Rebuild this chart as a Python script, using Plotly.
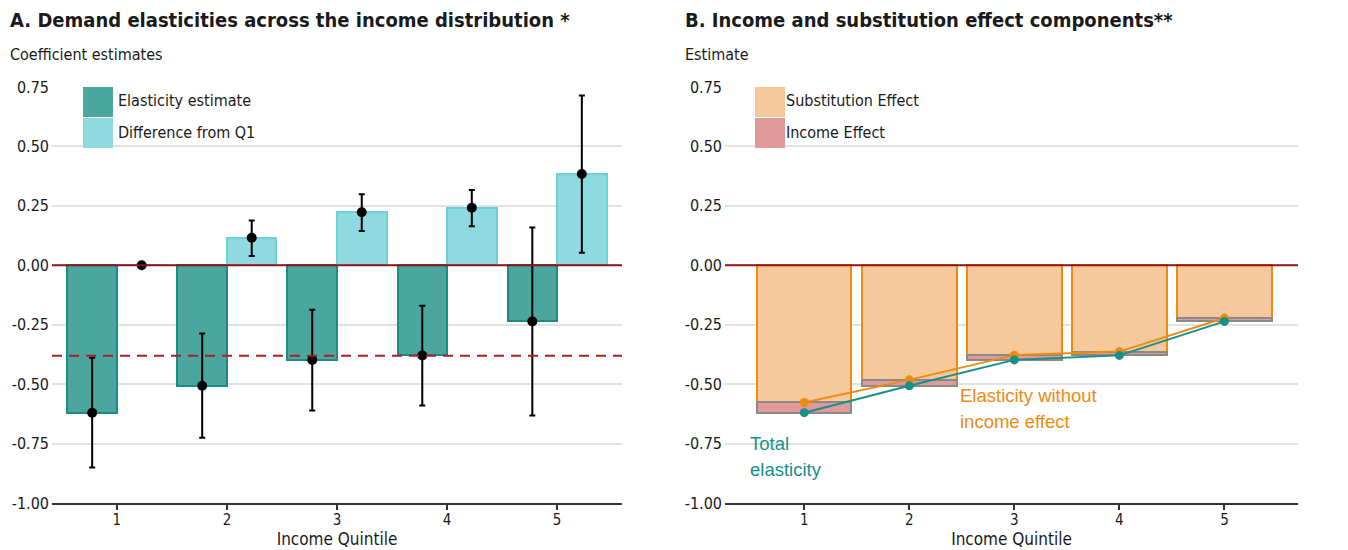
import plotly.graph_objects as go

# ---- data -----------------------------------------------------------------
quintiles = [1, 2, 3, 4, 5]

# Panel A: elasticity by income quintile, with 95% confidence bounds
elasticity = [-0.620, -0.507, -0.398, -0.379, -0.236]
elasticity_low = [-0.851, -0.725, -0.611, -0.590, -0.632]
elasticity_high = [-0.389, -0.287, -0.187, -0.170, 0.159]

# Panel A: difference from the first quintile
diff_q1 = [0.000, 0.116, 0.223, 0.242, 0.384]
diff_low = [0.000, 0.039, 0.144, 0.164, 0.053]
diff_high = [0.000, 0.188, 0.299, 0.317, 0.714]

# pooled (all-household) elasticity shown as the dashed reference
pooled_elasticity = -0.381

# Panel B: substitution effect; total elasticity = substitution + income
substitution = [-0.577, -0.482, -0.378, -0.363, -0.222]
total_elasticity = elasticity

y_ticks = [0.75, 0.50, 0.25, 0.00, -0.25, -0.50, -0.75, -1.00]
y_ticktext = ["0.75", "0.50", "0.25", "0.00", "-0.25", "-0.50", "-0.75", "-1.00"]

# ---- styling --------------------------------------------------------------
W, H = 1348, 550
NARROW = "DejaVu Sans Condensed, Liberation Sans Narrow, Roboto, sans-serif"
SANS = "Liberation Sans, Arial, sans-serif"
TEAL_FILL, TEAL_LINE = "#4ba6a0", "#1c8b83"
CYAN_FILL, CYAN_LINE = "#8fd9e0", "#6dcfd9"
ORANGE_FILL, ORANGE_LINE = "#f5c99b", "#f08a10"
PINK_FILL, GREY_LINE = "#e09a9a", "#8a8a8a"
TEAL_PT = "#15918a"
ZERO_RED = "#8e1616"
DASH_RED = "#a82225"
GRID = "#e2e2e2"
TEXT = "#1a1a1a"


def px(x):
    return x / W


def py(y):
    return 1 - y / H


half = 0.225  # dodge offset of the two bars in panel A
income_effect = [t - s for t, s in zip(total_elasticity, substitution)]

fig = go.Figure()

# ---- panel A --------------------------------------------------------------
fig.add_trace(go.Bar(
    x=quintiles, y=elasticity, offset=-2 * half, width=2 * half,
    marker=dict(color=TEAL_FILL, line=dict(color=TEAL_LINE, width=2)),
    xaxis="x", yaxis="y", showlegend=False, hoverinfo="skip"))
fig.add_trace(go.Bar(
    x=quintiles, y=diff_q1, offset=0, width=2 * half,
    marker=dict(color=CYAN_FILL, line=dict(color=CYAN_LINE, width=2)),
    xaxis="x", yaxis="y", showlegend=False, hoverinfo="skip"))

fig.add_trace(go.Scatter(
    x=[q - half for q in quintiles], y=elasticity, mode="markers",
    marker=dict(color="black", size=10),
    error_y=dict(type="data", symmetric=False,
                 array=[h - e for h, e in zip(elasticity_high, elasticity)],
                 arrayminus=[e - l for e, l in zip(elasticity, elasticity_low)],
                 color="black", thickness=2, width=3),
    xaxis="x", yaxis="y", showlegend=False))
fig.add_trace(go.Scatter(
    x=[q + half for q in quintiles], y=diff_q1, mode="markers",
    marker=dict(color="black", size=10),
    error_y=dict(type="data", symmetric=False,
                 array=[h - d for h, d in zip(diff_high, diff_q1)],
                 arrayminus=[d - l for d, l in zip(diff_q1, diff_low)],
                 color="black", thickness=2, width=3),
    xaxis="x", yaxis="y", showlegend=False))

# ---- panel B --------------------------------------------------------------
fig.add_trace(go.Bar(
    x=quintiles, y=substitution, width=0.9,
    marker=dict(color=ORANGE_FILL, line=dict(color=ORANGE_LINE, width=2)),
    xaxis="x2", yaxis="y2", showlegend=False, hoverinfo="skip"))
fig.add_trace(go.Bar(
    x=quintiles, y=income_effect, base=substitution, width=0.9,
    marker=dict(color=PINK_FILL, line=dict(color=GREY_LINE, width=2)),
    xaxis="x2", yaxis="y2", showlegend=False, hoverinfo="skip"))
fig.add_trace(go.Scatter(
    x=quintiles, y=substitution, mode="lines+markers",
    line=dict(color=ORANGE_LINE, width=2), marker=dict(size=9, color=ORANGE_LINE),
    xaxis="x2", yaxis="y2", showlegend=False))
fig.add_trace(go.Scatter(
    x=quintiles, y=total_elasticity, mode="lines+markers",
    line=dict(color=TEAL_PT, width=2), marker=dict(size=9, color=TEAL_PT),
    xaxis="x2", yaxis="y2", showlegend=False))

# ---- axes -----------------------------------------------------------------
dom_y = [py(503), py(87)]
dom_a = [px(52), px(622)]
dom_b = [px(725), px(1298)]
tick_font = dict(family=NARROW, size=16, color=TEXT)


def xaxis(domain, rng, anchor):
    return dict(domain=domain, range=rng, anchor=anchor, tickvals=quintiles,
                ticks="outside", ticklen=5, tickwidth=1.5, tickcolor="#333",
                showline=True, linecolor="#333", linewidth=2,
                showgrid=False, zeroline=False,
                tickfont=dict(family=NARROW, size=15, color=TEXT),
                ticklabelstandoff=-3,
                title=dict(text="Income Quintile", standoff=5,
                           font=dict(family=NARROW, size=17, color=TEXT)),
                automargin=False, fixedrange=True)


def yaxis(anchor, side="left", overlay=None, grid=True):
    d = dict(domain=dom_y, range=[-1.0, 0.75], anchor=anchor, side=side,
             tickvals=y_ticks, ticktext=y_ticktext, ticks="",
             showgrid=grid, gridcolor=GRID, gridwidth=1.5, zeroline=False,
             showline=False, tickfont=tick_font, ticklabelstandoff=2,
             automargin=False, fixedrange=True)
    if overlay:
        d["overlaying"] = overlay
    return d


fig.update_layout(
    width=W, height=H, margin=dict(l=0, r=0, t=0, b=0, autoexpand=False),
    paper_bgcolor="white", plot_bgcolor="white",
    barmode="overlay", bargap=0,
    xaxis=xaxis(dom_a, [0.41, 5.59], "y"),
    yaxis=yaxis("x"),
    yaxis3=yaxis("x", side="right", overlay="y", grid=False),
    xaxis2=xaxis(dom_b, [0.246, 5.70], "y2"),
    yaxis2=yaxis("x2"),
    yaxis4=yaxis("x2", side="right", overlay="y2", grid=False),
    font=dict(family=NARROW, color=TEXT),
)

# reference lines
for xr, yr, rng in (("x", "y", [0.41, 5.59]), ("x2", "y2", [0.246, 5.70])):
    fig.add_shape(type="line", xref=xr, yref=yr, x0=rng[0], x1=rng[1], y0=0, y1=0,
                  line=dict(color=ZERO_RED, width=2), layer="above")
fig.add_shape(type="line", xref="x", yref="y", x0=0.41, x1=5.59,
              y0=pooled_elasticity, y1=pooled_elasticity,
              line=dict(color=DASH_RED, width=2, dash="10px,7px"), layer="above")

# ---- titles ---------------------------------------------------------------
def label(x, y, text, size, color=TEXT, family=NARROW, bold=False):
    fig.add_annotation(xref="paper", yref="paper", x=px(x), y=py(y),
                       xanchor="left", yanchor="middle", showarrow=False,
                       text=f"<b>{text}</b>" if bold else text,
                       font=dict(family=family, size=size, color=color))


label(8, 20, "A. Demand elasticities across the income distribution *", 20, bold=True)
label(683, 20, "B. Income and substitution effect components**", 20, bold=True)
label(8, 55, "Coefficient estimates", 16)
label(683, 55, "Estimate", 16)

# ---- legends --------------------------------------------------------------
def swatch(x0, y0, color):
    fig.add_shape(type="rect", xref="paper", yref="paper",
                  x0=px(x0), x1=px(x0 + 30), y0=py(y0 + 30), y1=py(y0),
                  fillcolor=color, line=dict(width=0), layer="above")


swatch(83, 87, TEAL_FILL)
swatch(83, 118, CYAN_FILL)
label(116, 101, "Elasticity estimate", 16)
label(116, 132, "Difference from Q1", 16)

swatch(755, 87, ORANGE_FILL)
swatch(755, 118, PINK_FILL)
label(784, 101, "Substitution Effect", 16)
label(784, 132, "Income Effect", 16)

# ---- series labels --------------------------------------------------------
label(958, 395, "Elasticity without", 18.5, ORANGE_LINE, SANS)
label(958, 421, "income effect", 18.5, ORANGE_LINE, SANS)
label(748, 443, "Total", 18.5, TEAL_PT, SANS)
label(748, 469, "elasticity", 18.5, TEAL_PT, SANS)

fig.write_html("out.html")
